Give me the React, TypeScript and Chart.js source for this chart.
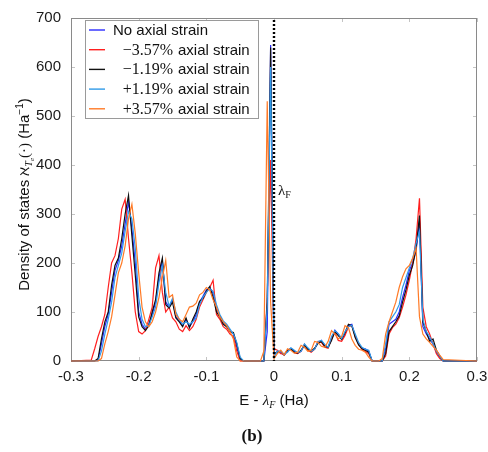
import React, { useEffect, useRef } from "react";
import { Chart, registerables } from "chart.js";

Chart.register(...registerables);

// Energy grid E - lambda_F (Ha)
const energies = [
  -0.3,
  -0.27, -0.265, -0.26, -0.255, -0.25, -0.245, -0.24, -0.235, -0.23, -0.225,
  -0.22, -0.215, -0.21, -0.205, -0.2, -0.195, -0.19, -0.185, -0.18, -0.175,
  -0.17, -0.165, -0.16, -0.155, -0.15, -0.145, -0.14, -0.135, -0.13, -0.125,
  -0.12, -0.115, -0.11, -0.105, -0.1, -0.095, -0.09, -0.085, -0.08, -0.075,
  -0.07, -0.065, -0.06, -0.055, -0.05, -0.045, -0.04, -0.035, -0.03, -0.025,
  -0.02, -0.015, -0.01, -0.005, 0, 0.005, 0.01, 0.015, 0.02, 0.025,
  0.03, 0.035, 0.04, 0.045, 0.05, 0.055, 0.06, 0.065, 0.07, 0.075,
  0.08, 0.085, 0.09, 0.095, 0.1, 0.105, 0.11, 0.115, 0.12, 0.125,
  0.13, 0.135, 0.14, 0.145, 0.15, 0.155, 0.16, 0.165, 0.17, 0.175,
  0.18, 0.185, 0.19, 0.195, 0.2, 0.205, 0.21, 0.215, 0.22, 0.225,
  0.23, 0.235, 0.24, 0.245, 0.25,
  0.3,
];

const noStrain = [
  0,
  0, 0, 2, 35, 70, 95, 140, 185, 205, 235,
  280, 325, 270, 200, 100, 75, 65, 75, 95, 120,
  170, 205, 120, 110, 125, 90, 82, 72, 85, 70,
  80, 95, 120, 132, 145, 150, 138, 105, 92, 78,
  72, 62, 55, 28, 2, 0, 0, 0, 0, 0,
  0, 0, 60, 645, 10, 20, 18, 12, 20, 26,
  20, 16, 20, 33, 25, 20, 25, 38, 42, 32,
  28, 45, 63, 55, 45, 55, 72, 75, 50, 35,
  25, 25, 20, 0, 0, 0, 0, 25, 75, 80,
  85, 100, 130, 155, 185, 200, 225, 285, 70, 55,
  45, 35, 18, 8, 0,
  0,
];

const minus357 = [
  0,
  2, 25, 50, 70, 95, 150, 200, 215, 250, 310,
  330, 250, 180, 100, 60, 55, 62, 85, 110, 190,
  215, 140, 100, 110, 88, 80, 65, 60, 72, 62,
  70, 85, 110, 125, 140, 150, 165, 95, 85, 70,
  65, 55, 50, 20, 0, 0, 0, 0, 0, 0,
  0, 0, 130, 410, 25, 22, 15, 14, 22, 24,
  17, 15, 20, 34, 22, 18, 24, 40, 38, 28,
  26, 46, 58, 42, 40, 52, 70, 72, 52, 35,
  24, 20, 15, 0, 0, 0, 0, 10, 55, 68,
  75, 88, 110, 135, 165, 200, 250, 332, 110, 70,
  55, 35, 15, 5, 0,
  0,
];

const minus119 = [
  0,
  0, 0, 5, 45, 80, 100, 155, 195, 210, 250,
  300, 338, 255, 175, 90, 70, 62, 72, 100, 125,
  180, 210, 115, 108, 120, 88, 80, 70, 88, 68,
  85, 100, 122, 128, 142, 152, 130, 100, 90, 75,
  70, 60, 58, 35, 5, 0, 0, 0, 0, 0,
  0, 0, 120, 640, 15, 18, 20, 12, 22, 25,
  18, 16, 22, 32, 24, 20, 26, 36, 40, 30,
  28, 42, 60, 52, 44, 58, 75, 72, 48, 33,
  25, 22, 18, 0, 0, 0, 0, 15, 60, 70,
  80, 92, 120, 145, 175, 195, 230, 297, 80, 60,
  40, 45, 22, 10, 0,
  0,
];

const plus119 = [
  0,
  0, 0, 0, 20, 55, 85, 120, 170, 195, 220,
  265, 305, 290, 230, 130, 85, 70, 72, 90, 110,
  160, 195, 140, 112, 128, 100, 85, 75, 80, 75,
  80, 88, 115, 130, 140, 148, 142, 115, 95, 82,
  75, 65, 55, 38, 8, 0, 0, 0, 0, 0,
  0, 0, 110, 600, 8, 20, 20, 14, 18, 27,
  22, 17, 20, 35, 27, 20, 24, 40, 42, 34,
  28, 50, 62, 56, 46, 60, 70, 73, 55, 38,
  28, 24, 22, 0, 0, 0, 0, 35, 80, 90,
  100, 115, 150, 170, 190, 210, 240, 265, 85, 60,
  50, 35, 20, 10, 0,
  0,
];

const plus357 = [
  0,
  0, 0, 0, 5, 35, 60, 90, 135, 180, 200,
  235, 290, 320, 260, 180, 110, 80, 70, 80, 100,
  130, 170, 205, 130, 135, 95, 85, 80, 95, 110,
  112, 118, 135, 140, 150, 145, 125, 110, 90, 80,
  72, 60, 45, 8, 0, 0, 0, 0, 0, 0,
  0, 20, 530, 120, 5, 15, 22, 12, 25, 22,
  16, 18, 32, 28, 20, 22, 40, 38, 30, 28,
  40, 62, 55, 45, 50, 72, 68, 45, 32, 24,
  22, 18, 8, 0, 0, 0, 5, 55, 80, 100,
  120, 150, 172, 188, 195, 210, 230, 90, 55, 45,
  38, 30, 22, 12, 3,
  0,
];

const seriesValues = [noStrain, minus357, minus119, plus119, plus357];
const seriesStrain = ["", "\u22123.57%", "\u22121.19%", "+1.19%", "+3.57%"];
const seriesNames = [
  "No axial strain",
  "\u22123.57% axial strain",
  "\u22121.19% axial strain",
  "+1.19% axial strain",
  "+3.57% axial strain",
];
const seriesColors = ["#2a2aff", "#ff1f1f", "#111111", "#2f9ae8", "#ff7a26"];

const xTicks = [-0.3, -0.2, -0.1, 0, 0.1, 0.2, 0.3];
const yTicks = [0, 100, 200, 300, 400, 500, 600, 700];
const fermiLevel = 0;

const SANS = '"Liberation Sans", Arial, sans-serif';
const SERIF = '"Liberation Serif", "DejaVu Serif", serif';

type Run = { t: string; font: string; dy: number };

function drawRuns(ctx: CanvasRenderingContext2D, runs: Run[], cx: number, baseY: number, align: "center" | "left" = "center") {
  let total = 0;
  const widths: number[] = [];
  for (const r of runs) {
    ctx.font = r.font;
    const w = ctx.measureText(r.t).width;
    widths.push(w);
    total += w;
  }
  let x = align === "center" ? cx - total / 2 : cx;
  runs.forEach((r, i) => {
    ctx.font = r.font;
    ctx.fillText(r.t, x, baseY + r.dy);
    x += widths[i];
  });
}

const decor = {
  id: "decor",
  beforeDatasetsDraw(chart: any) {
    const { ctx, chartArea: a, scales } = chart;
    const x = scales.x;
    const y = scales.y;
    ctx.save();
    ctx.strokeStyle = "#c4c4c4";
    ctx.lineWidth = 1;
    ctx.beginPath();
    for (const t of xTicks) {
      const px = Math.round(x.getPixelForValue(t)) + 0.5;
      ctx.moveTo(px, a.bottom);
      ctx.lineTo(px, a.bottom - 4);
      ctx.moveTo(px, a.top);
      ctx.lineTo(px, a.top + 4);
    }
    for (const t of yTicks) {
      const py = Math.round(y.getPixelForValue(t)) + 0.5;
      ctx.moveTo(a.left, py);
      ctx.lineTo(a.left + 4, py);
      ctx.moveTo(a.right, py);
      ctx.lineTo(a.right - 4, py);
    }
    ctx.stroke();
    ctx.strokeStyle = "#8a8a8a";
    ctx.strokeRect(Math.round(a.left) + 0.5, Math.round(a.top) + 0.5, Math.round(a.right - a.left) - 1, Math.round(a.bottom - a.top) - 1);
    ctx.restore();
  },
  afterDatasetsDraw(chart: any) {
    const { ctx, chartArea: a, scales } = chart;
    const fx = scales.x.getPixelForValue(fermiLevel);
    ctx.save();
    ctx.strokeStyle = "#000";
    ctx.lineWidth = 2.4;
    ctx.setLineDash([2, 2]);
    ctx.beginPath();
    ctx.moveTo(fx, a.top + 2);
    ctx.lineTo(fx, a.bottom);
    ctx.stroke();
    ctx.restore();
  },
  afterDraw(chart: any) {
    const { ctx, chartArea: a, scales } = chart;
    ctx.save();
    ctx.fillStyle = "#111";
    ctx.textBaseline = "alphabetic";
    ctx.textAlign = "left";

    // lambda_F label
    const fx = scales.x.getPixelForValue(fermiLevel);
    drawRuns(ctx, [
      { t: "\u03bb", font: `15px ${SERIF}`, dy: 0 },
      { t: "F", font: `10px ${SERIF}`, dy: 3 },
    ], fx + 4, 195, "left");

    // Legend
    const lx = 85, ly = 20, lw = 173, lh = 98;
    ctx.fillStyle = "#fff";
    ctx.fillRect(lx, ly, lw, lh);
    ctx.strokeStyle = "#9a9a9a";
    ctx.lineWidth = 1;
    ctx.strokeRect(lx + 0.5, ly + 0.5, lw, lh);
    seriesNames.forEach((name, i) => {
      const cy = 30 + i * 19.7;
      ctx.strokeStyle = seriesColors[i];
      ctx.lineWidth = 1.4;
      ctx.beginPath();
      ctx.moveTo(89, cy);
      ctx.lineTo(105, cy);
      ctx.stroke();
      ctx.fillStyle = "#111";
      if (seriesStrain[i]) {
        ctx.font = `16px ${SERIF}`;
        ctx.textAlign = "right";
        ctx.fillText(seriesStrain[i], 173, cy + 5);
        ctx.textAlign = "left";
        ctx.font = `15px ${SANS}`;
        ctx.fillText(name.slice(seriesStrain[i].length + 1), 178, cy + 5);
      } else {
        ctx.font = `15px ${SANS}`;
        ctx.fillText(name, 113, cy + 5);
      }
    });

    // x-axis title
    ctx.fillStyle = "#111";
    drawRuns(ctx, [
      { t: "E - ", font: `15px ${SANS}`, dy: 0 },
      { t: "\u03bb", font: `italic 15px ${SERIF}`, dy: 0 },
      { t: "F", font: `italic 10px ${SERIF}`, dy: 3 },
      { t: " (Ha)", font: `15px ${SANS}`, dy: 0 },
    ], (a.left + a.right) / 2, 405);

    // y-axis title (rotated)
    ctx.save();
    ctx.translate(29, (a.top + a.bottom) / 2 + 5);
    ctx.rotate(-Math.PI / 2);
    drawRuns(ctx, [
      { t: "Density of states ", font: `15px ${SANS}`, dy: 0 },
      { t: "\u2135", font: `15px ${SERIF}`, dy: 0 },
      { t: "T", font: `italic 10px ${SERIF}`, dy: 3 },
      { t: "e", font: `italic 7px ${SERIF}`, dy: 5 },
      { t: "(\u00b7)", font: `15px ${SERIF}`, dy: 0 },
      { t: " (Ha", font: `15px ${SANS}`, dy: 0 },
      { t: "\u22121", font: `10px ${SANS}`, dy: -6 },
      { t: ")", font: `15px ${SANS}`, dy: 0 },
    ], 0, 0);
    ctx.restore();

    // sub-figure caption
    ctx.font = `bold 17px ${SERIF}`;
    ctx.textAlign = "center";
    ctx.fillText("(b)", 252, 441);
    ctx.restore();
  },
};

export default function App() {
  const ref = useRef<HTMLCanvasElement>(null);
  useEffect(() => {
    document.body.style.margin = "0";
    const canvas = ref.current!;
    const chart = new Chart(canvas, {
      type: "line",
      data: {
        datasets: seriesNames.map((name, i) => ({
          label: name,
          data: energies.map((e, j) => ({ x: e, y: seriesValues[i][j] })),
          borderColor: seriesColors[i],
          backgroundColor: seriesColors[i],
          borderWidth: 1.2,
          pointRadius: 0,
          tension: 0,
          fill: false,
          clip: false as any,
          order: seriesNames.length - 1 - i,
        })),
      },
      options: {
        responsive: false,
        animation: false,
        devicePixelRatio: 1,
        layout: { padding: { top: 18, right: 11, left: 0, bottom: 0 } },
        plugins: { legend: { display: false }, tooltip: { enabled: false }, title: { display: false } },
        scales: {
          x: {
            type: "linear",
            min: -0.3,
            max: 0.3,
            afterFit: (s: any) => { s.height = 91; s.paddingLeft = 0; s.paddingRight = 0; },
            afterBuildTicks: (s: any) => { s.ticks = xTicks.map((v) => ({ value: v })); },
            ticks: {
              padding: 7,
              color: "#1a1a1a",
              font: { family: SANS, size: 15 },
              maxRotation: 0,
              autoSkip: false,
              callback: (v: any) => (Math.abs(Number(v)) < 1e-9 ? "0" : Number(v).toFixed(1)),
            },
            grid: { display: false, drawTicks: false },
            border: { display: false },
          },
          y: {
            type: "linear",
            min: 0,
            max: 700,
            afterFit: (s: any) => { s.width = 71; s.paddingTop = 0; s.paddingBottom = 0; },
            afterBuildTicks: (s: any) => { s.ticks = yTicks.map((v) => ({ value: v })); },
            ticks: {
              padding: 10,
              color: "#1a1a1a",
              font: { family: SANS, size: 15 },
              callback: (v: any) => String(v),
            },
            grid: { display: false, drawTicks: false },
            border: { display: false },
          },
        },
      },
      plugins: [decor],
    });
    return () => chart.destroy();
  }, []);
  return (
    <div style={{ width: 488, height: 452, background: "#fff" }}>
      <canvas ref={ref} width={488} height={452} style={{ display: "block" }} />
    </div>
  );
}
